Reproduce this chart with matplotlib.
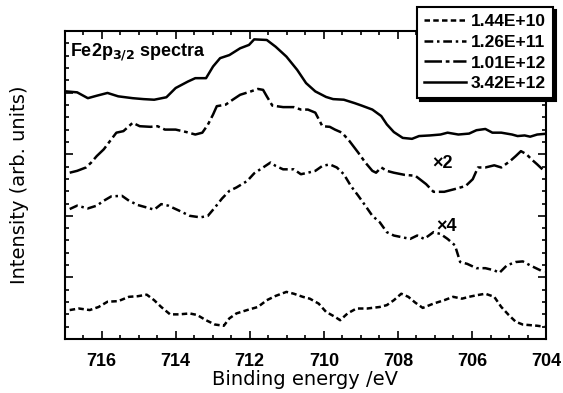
import matplotlib
matplotlib.use('Agg')
import matplotlib.pyplot as plt
from matplotlib.ticker import MultipleLocator

plt.rcParams['font.family'] = ['Liberation Sans', 'DejaVu Sans']

# Fe2p3/2 spectra, intensity in arbitrary units (offset for display)
e_342 = [716.95, 716.66, 716.37, 716.13, 715.84, 715.55, 715.16, 714.87, 714.58, 714.25,
         714.0, 713.67, 713.47, 713.18, 712.99, 712.80, 712.55, 712.26, 712.02, 711.88,
         711.54, 711.30, 711.01, 710.72, 710.48, 710.23, 709.94, 709.75, 709.46, 709.17,
         708.98, 708.69, 708.45, 708.30, 708.11, 707.87, 707.62, 707.43, 707.14, 706.85,
         706.66, 706.37, 706.08, 705.88, 705.64, 705.45, 705.21, 704.92, 704.77, 704.58,
         704.43, 704.24, 704.05]
i_342 = [8.04, 8.01, 7.82, 7.90, 7.99, 7.88, 7.82, 7.79, 7.77, 7.85,
         8.15, 8.36, 8.47, 8.47, 8.85, 9.12, 9.22, 9.44, 9.55, 9.73,
         9.71, 9.49, 9.17, 8.74, 8.31, 8.04, 7.86, 7.79, 7.77, 7.66,
         7.58, 7.45, 7.24, 6.97, 6.72, 6.53, 6.50, 6.59, 6.61, 6.64,
         6.70, 6.64, 6.67, 6.78, 6.82, 6.70, 6.70, 6.64, 6.59, 6.61,
         6.57, 6.64, 6.66]

e_101 = [716.86, 716.66, 716.42, 716.28, 716.13, 715.94, 715.74, 715.60, 715.41, 715.16,
         714.97, 714.68, 714.49, 714.29, 714.0, 713.71, 713.47, 713.28, 713.13, 712.99,
         712.89, 712.65, 712.46, 712.26, 711.97, 711.78, 711.64, 711.54, 711.39, 711.10,
         710.81, 710.62, 710.43, 710.23, 710.04, 709.84, 709.70, 709.51, 709.31, 709.07,
         708.88, 708.69, 708.59, 708.45, 708.30, 708.11, 707.82, 707.53, 707.24, 707.04,
         706.75, 706.46, 706.17, 705.98, 705.84, 705.64, 705.40, 705.21, 704.97, 704.82,
         704.68, 704.53, 704.39, 704.24, 704.10]
i_101 = [5.40, 5.46, 5.57, 5.73, 5.94, 6.16, 6.48, 6.70, 6.75, 7.02,
         6.91, 6.89, 6.91, 6.80, 6.80, 6.72, 6.64, 6.70, 6.96, 7.29,
         7.56, 7.61, 7.77, 7.93, 8.04, 8.12, 8.09, 7.88, 7.58, 7.53,
         7.53, 7.45, 7.45, 7.35, 6.91, 6.89, 6.80, 6.70, 6.43, 6.05,
         5.73, 5.46, 5.40, 5.57, 5.46, 5.40, 5.33, 5.30, 5.03, 4.78,
         4.78, 4.87, 4.97, 5.19, 5.57, 5.57, 5.64, 5.57, 5.78, 5.94,
         6.10, 6.00, 5.83, 5.67, 5.51]

e_126 = [716.86, 716.66, 716.37, 716.13, 715.94, 715.74, 715.45, 715.26, 715.02, 714.78,
         714.58, 714.39, 714.20, 713.91, 713.62, 713.33, 713.13, 712.94, 712.75, 712.55,
         712.36, 712.07, 711.88, 711.64, 711.44, 711.30, 711.10, 710.81, 710.62, 710.43,
         710.23, 710.04, 709.84, 709.65, 709.46, 709.27, 709.07, 708.88, 708.69, 708.49,
         708.30, 708.11, 707.87, 707.67, 707.48, 707.29, 707.04, 706.85, 706.66, 706.46,
         706.32, 706.13, 705.88, 705.64, 705.40, 705.26, 705.06, 704.82, 704.63, 704.43,
         704.24, 704.05]
i_126 = [4.22, 4.33, 4.24, 4.33, 4.49, 4.63, 4.65, 4.49, 4.35, 4.27,
         4.20, 4.38, 4.33, 4.17, 4.00, 3.95, 4.00, 4.27, 4.56, 4.81,
         4.92, 5.13, 5.38, 5.57, 5.73, 5.62, 5.51, 5.51, 5.35, 5.40,
         5.46, 5.62, 5.67, 5.57, 5.35, 4.97, 4.65, 4.33, 4.00, 3.79,
         3.47, 3.36, 3.30, 3.25, 3.36, 3.25, 3.47, 3.41, 3.25, 3.04,
         2.50, 2.44, 2.30, 2.30, 2.23, 2.15, 2.39, 2.50, 2.52, 2.39,
         2.28, 2.17]

e_144 = [716.86, 716.61, 716.32, 716.08, 715.84, 715.55, 715.26, 715.02, 714.78, 714.58,
         714.39, 714.15, 713.91, 713.62, 713.42, 713.18, 712.94, 712.70, 712.55, 712.36,
         712.07, 711.78, 711.54, 711.30, 711.01, 710.81, 710.57, 710.38, 710.14, 709.94,
         709.70, 709.56, 709.36, 709.12, 708.83, 708.49, 708.30, 708.11, 707.91, 707.72,
         707.53, 707.33, 707.04, 706.75, 706.51, 706.27, 706.08, 705.88, 705.64, 705.40,
         705.21, 705.01, 704.82, 704.63, 704.43, 704.24, 704.05]
i_144 = [0.94, 0.99, 0.94, 1.04, 1.21, 1.23, 1.37, 1.39, 1.44, 1.26,
         1.04, 0.80, 0.80, 0.83, 0.78, 0.61, 0.47, 0.43, 0.67, 0.83,
         0.94, 1.04, 1.26, 1.40, 1.53, 1.47, 1.37, 1.31, 1.15, 0.88,
         0.72, 0.61, 0.83, 0.99, 0.99, 1.04, 1.10, 1.26, 1.47, 1.37,
         1.18, 1.01, 1.15, 1.26, 1.37, 1.31, 1.37, 1.42, 1.47, 1.37,
         1.04, 0.78, 0.56, 0.47, 0.45, 0.43, 0.40]

labels = ['1.44E+10', '1.26E+11', '1.01E+12', '3.42E+12']

fig = plt.figure(figsize=(5.63, 3.93), dpi=100)
ax = fig.add_axes([0.1146, 0.1374, 0.8554, 0.7836])

lw = 1.8
l1, = ax.plot(e_144, i_144, color='black', lw=lw, dashes=(2.2, 1.3))
l2, = ax.plot(e_126, i_126, color='black', lw=lw, dashes=(3.5, 1.5, 1.0, 1.5))
l3, = ax.plot(e_101, i_101, color='black', lw=lw, dashes=(7, 1.5, 1.5, 1.5))
l4, = ax.plot(e_342, i_342, color='black', lw=lw)

ax.set_xlim(717, 704)
ax.set_ylim(0, 10)
ax.xaxis.set_major_locator(MultipleLocator(2))
ax.xaxis.set_minor_locator(MultipleLocator(0.5))
ax.yaxis.set_major_locator(MultipleLocator(2))
ax.yaxis.set_minor_locator(MultipleLocator(0.4))
ax.tick_params(which='both', direction='in', top=True, right=True, width=1.2, color='black')
ax.tick_params(which='major', length=6)
ax.tick_params(which='minor', length=3)
ax.tick_params(axis='x', labelsize=13, pad=10)
ax.set_yticklabels([])
for lab in ax.get_xticklabels():
    lab.set_fontweight('bold')
for sp in ax.spines.values():
    sp.set_linewidth(1.5)

ax.set_xlabel('Binding energy /eV', fontsize=14, labelpad=0, family='DejaVu Sans')
ax.set_ylabel('Intensity (arb. units)', fontsize=14, labelpad=22, family='DejaVu Sans')

ax.text(0.012, 0.93, r'Fe2p$_{\mathbf{3/2}}$ spectra', transform=ax.transAxes,
        fontsize=13, fontweight='bold', va='center', ha='left')
ax.text(706.8, 5.7, '×2', fontsize=13, fontweight='bold', ha='center', va='center')
ax.text(706.7, 3.65, '×4', fontsize=13, fontweight='bold', ha='center', va='center')

leg = fig.legend([l1, l2, l3, l4], labels, loc='upper right',
                 bbox_to_anchor=(553 / 563, 1 - 7 / 393), fancybox=False,
                 shadow={'color': 'black', 'alpha': 1}, framealpha=1,
                 edgecolor='black', handlelength=2.4, handletextpad=0.3,
                 labelspacing=0.32, borderpad=0.4, borderaxespad=0,
                 prop={'size': 12.5, 'weight': 'bold'})
leg.get_frame().set_linewidth(1.5)

fig.savefig('out.png', dpi=100)
